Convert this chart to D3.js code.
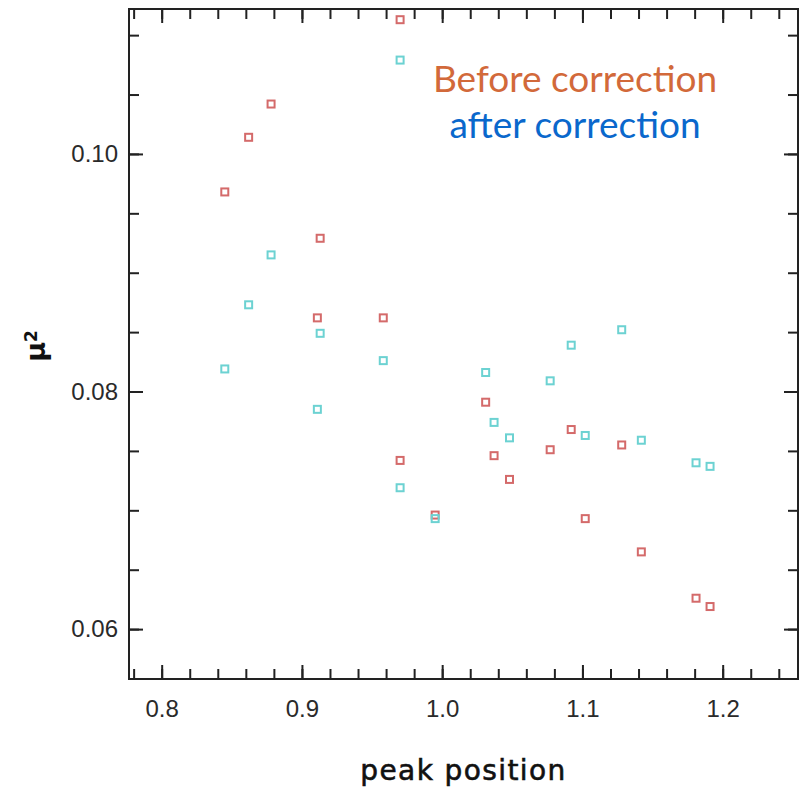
<!DOCTYPE html>
<html>
<head>
<meta charset="utf-8">
<script src="https://cdn.jsdelivr.net/npm/d3@7"></script>
<style>
  body { margin: 0; background: #fff; }
  svg { display: block; }
</style>
</head>
<body>
<div id="chart"></div>
<script>
// peak positions (shared by both series)
const peakPos = [0.845, 0.862, 0.878, 0.911, 0.913, 0.958, 0.970, 0.970, 0.995,
  1.031, 1.037, 1.048, 1.077, 1.092, 1.102, 1.128, 1.142, 1.181, 1.191];
// mu^2 before correction
const beforeVals = [0.0968, 0.1014, 0.1042, 0.0862, 0.0929, 0.0862, 0.1113, 0.0742, 0.0696,
  0.0791, 0.0746, 0.0726, 0.0751, 0.0768, 0.0693, 0.0755, 0.0665, 0.0626, 0.0619];
// mu^2 after correction
const afterVals = [0.0819, 0.0873, 0.0915, 0.0785, 0.0849, 0.0826, 0.1079, 0.0719, 0.0693,
  0.0816, 0.0774, 0.0761, 0.0809, 0.0839, 0.0763, 0.0852, 0.0759, 0.0740, 0.0737];

const xTicks = [0.8, 0.9, 1.0, 1.1, 1.2];
const yTicks = [0.06, 0.08, 0.10];
const legendLabels = ["Before correction", "after correction"];

const width = 804, height = 792;
const margin = { top: 9, right: 6, bottom: 113, left: 129 };
const w = width - margin.left - margin.right;
const h = height - margin.top - margin.bottom;

const svg = d3.select("#chart").append("svg")
  .attr("width", width)
  .attr("height", height);

const g = svg.append("g")
  .attr("transform", `translate(${margin.left},${margin.top})`);

const x = d3.scaleLinear().domain([0.7767, 1.2537]).range([0, w]);
const y = d3.scaleLinear().domain([0.0558, 0.1122]).range([h, 0]);

// kleine Ticks
const xMinor = d3.range(0.78, 1.2537, 0.02);
const yMinor = d3.range(0.06, 0.1122, 0.005);

function styleAxis(sel) {
  sel.select(".domain").remove();
  sel.selectAll(".tick line").attr("stroke", "#222").attr("stroke-width", 2);
  sel.selectAll(".tick text")
    .attr("fill", "#2a2a2a")
    .style("font-family", "'Liberation Sans', Arial, sans-serif")
    .style("font-size", "24px");
}

// bottom
g.append("g").attr("transform", `translate(0,${h})`)
  .call(d3.axisBottom(x).tickValues(xMinor).tickSize(-10).tickFormat(""))
  .call(styleAxis);
g.append("g").attr("transform", `translate(0,${h})`)
  .call(d3.axisBottom(x).tickValues(xTicks).tickSize(-14).tickPadding(21)
    .tickFormat(d3.format(".1f")))
  .call(styleAxis);
// top
g.append("g")
  .call(d3.axisTop(x).tickValues(xMinor).tickSize(-10).tickFormat(""))
  .call(styleAxis);
g.append("g")
  .call(d3.axisTop(x).tickValues(xTicks).tickSize(-14).tickFormat(""))
  .call(styleAxis);
// left
g.append("g")
  .call(d3.axisLeft(y).tickValues(yMinor).tickSize(-10).tickFormat(""))
  .call(styleAxis);
g.append("g")
  .call(d3.axisLeft(y).tickValues(yTicks).tickSize(-14).tickPadding(11)
    .tickFormat(d3.format(".2f")))
  .call(styleAxis);
// right
g.append("g").attr("transform", `translate(${w},0)`)
  .call(d3.axisRight(y).tickValues(yMinor).tickSize(-10).tickFormat(""))
  .call(styleAxis);
g.append("g").attr("transform", `translate(${w},0)`)
  .call(d3.axisRight(y).tickValues(yTicks).tickSize(-14).tickFormat(""))
  .call(styleAxis);

// Rahmen
g.append("rect")
  .attr("width", w).attr("height", h)
  .attr("fill", "none")
  .attr("stroke", "#222")
  .attr("stroke-width", 2);

// points
const sq = 7;
function drawSeries(vals, color) {
  g.append("g").selectAll("rect")
    .data(peakPos.map((p, i) => [p, vals[i]]))
    .join("rect")
    .attr("x", d => x(d[0]) - sq / 2)
    .attr("y", d => y(d[1]) - sq / 2)
    .attr("width", sq)
    .attr("height", sq)
    .attr("fill", "none")
    .attr("stroke", color)
    .attr("stroke-width", 2);
}
drawSeries(beforeVals, "#d46a6a");
drawSeries(afterVals, "#6cd2d2");

// legend text
const legend = g.append("g")
  .style("font-family", "Lato, 'Open Sans', sans-serif")
  .style("font-size", "37px")
  .attr("text-anchor", "middle");
legend.append("text")
  .attr("x", 575 - margin.left).attr("y", 92 - margin.top)
  .attr("fill", "#d2693a")
  .text(legendLabels[0]);
legend.append("text")
  .attr("x", 575 - margin.left).attr("y", 138 - margin.top)
  .attr("fill", "#0a68cc")
  .text(legendLabels[1]);

// axis titles
svg.append("text")
  .attr("x", margin.left + w / 2)
  .attr("y", 780)
  .attr("text-anchor", "middle")
  .style("font-family", "'DejaVu Sans', sans-serif")
  .style("font-size", "28px")
  .style("letter-spacing", "1.4px")
  .attr("fill", "#111")
  .attr("stroke", "#111")
  .attr("stroke-width", 0.6)
  .text("peak position");

const yt = svg.append("text")
  .attr("transform", `translate(45,${margin.top + h / 2 + 2}) rotate(-90)`)
  .attr("text-anchor", "middle")
  .style("font-family", "'DejaVu Sans', sans-serif")
  .style("font-size", "27px")
  .style("font-weight", "bold")
  .attr("fill", "#111");
yt.append("tspan").text("μ");
yt.append("tspan").attr("dy", "-0.45em").style("font-size", "17px").text("2");
</script>
</body>
</html>
